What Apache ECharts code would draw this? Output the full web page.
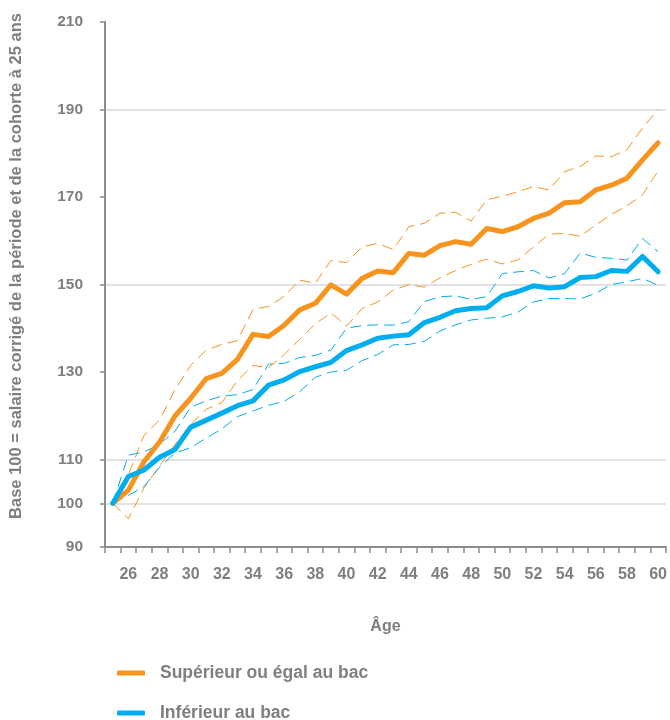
<!DOCTYPE html>
<html>
<head>
<meta charset="utf-8">
<script src="https://cdn.jsdelivr.net/npm/echarts@6/dist/echarts.min.js"></script>
<style>
html,body{margin:0;padding:0;background:#fff;}
#chart{width:670px;height:720px;}
</style>
</head>
<body>
<div id="chart"></div>
<script>
// ---- data ----
const ages = [];
for (let a = 25; a <= 60; a++) ages.push(String(a));

const yTicks = [90, 100, 110, 130, 150, 170, 190, 210];

const supMain = [100, 103, 109.5, 114, 120, 124, 128.5, 129.7, 132.9, 138.6, 138.1, 140.7, 144.2, 145.7, 149.9, 147.8, 151.4, 153.1, 152.7, 157.1, 156.7, 158.9, 159.8, 159.2, 162.8, 162.1, 163.2, 165.1, 166.3, 168.7, 168.9, 171.6, 172.7, 174.3, 178.5, 182.4];
const supHigh = [100, 106.5, 115.5, 119, 126, 131.5, 135, 136.3, 137.2, 144.3, 145, 147.3, 151, 150.3, 155.5, 155, 158.6, 159.4, 158, 163.2, 164, 166.3, 166.5, 164.5, 169.4, 170.2, 171.2, 172.4, 171.6, 175.8, 177, 179.4, 179.2, 180.8, 185.8, 190];
const supLow = [100, 96.5, 103.5, 108.5, 113.5, 118, 121.5, 123, 128, 131.5, 131, 134, 137.5, 141, 143.5, 140.5, 144.5, 146, 148.7, 150, 149.4, 151.5, 153.2, 154.6, 155.8, 154.7, 155.6, 158.6, 161.5, 161.7, 161, 163.6, 166, 168, 170.5, 176];

const infMain = [100, 106.1, 107.6, 110.5, 112.3, 117.4, 119, 120.6, 122.3, 123.4, 127, 128.2, 130.1, 131.2, 132.2, 134.9, 136.2, 137.7, 138.2, 138.5, 141.3, 142.5, 144, 144.5, 144.7, 147.4, 148.4, 149.7, 149.2, 149.5, 151.6, 151.8, 153.2, 153, 156.4, 152.9];
const infHigh = [100, 111, 111.7, 113.5, 116.5, 122, 123.4, 124.5, 124.8, 126, 131.8, 132, 133.3, 133.8, 135, 140, 140.6, 140.8, 140.7, 141.5, 146.1, 147.2, 147.4, 146.6, 147.2, 152.5, 152.9, 153.2, 151.5, 152.5, 157.2, 156.2, 156, 155.6, 160.5, 157.5];
const infLow = [100, 101.8, 103.8, 108.3, 111.5, 112.7, 114.9, 117, 119.8, 121.1, 122.4, 123.3, 125.5, 128.8, 130, 130.4, 132.6, 134, 136.2, 136.3, 137, 139.4, 140.8, 141.9, 142.3, 142.6, 143.7, 146, 146.8, 146.8, 146.7, 148, 150, 150.6, 151.4, 149.8];

const nameSup = 'Supérieur ou égal au bac';
const nameInf = 'Inférieur au bac';

// ---- style ----
const ORANGE = '#F7941D';
const BLUE = '#00AEEF';
const TXT = '#7f7f7f';
const FONT = 'Liberation Sans, Arial, sans-serif';
const GRID = '#d9d9d9';

const splitColors = [];
for (let v = 90; v <= 210; v += 10) {
  splitColors.push(v !== 90 && yTicks.indexOf(v) >= 0 ? GRID : 'rgba(0,0,0,0)');
}

function dashed(name, data, color) {
  return {
    name: name, type: 'line', data: data, symbol: 'none', silent: true,
    lineStyle: { color: color, width: 1, type: [11, 6] }, z: 2
  };
}
function solid(name, data, color, z) {
  return {
    name: name, type: 'line', data: data, symbol: 'none',
    itemStyle: { color: color },
    lineStyle: { color: color, width: 5, join: 'round', cap: 'round' }, z: z
  };
}
function legendFor(name, top) {
  return {
    data: [name],
    orient: 'horizontal',
    left: 117, top: top,
    padding: 0,
    icon: 'roundRect',
    itemWidth: 28, itemHeight: 5,
    selectedMode: false,
    textStyle: { color: TXT, fontSize: 17.5, fontWeight: 'bold', fontFamily: FONT, padding: [0, 0, 0, 10] }
  };
}

const chart = echarts.init(document.getElementById('chart'), null, { renderer: 'canvas' });
chart.setOption({
  animation: false,
  backgroundColor: '#ffffff',
  textStyle: { fontFamily: FONT },
  grid: { left: 105, right: 3, top: 22, bottom: 173, containLabel: false },
  xAxis: {
    type: 'category',
    data: ages,
    boundaryGap: true,
    name: 'Âge',
    nameLocation: 'middle',
    nameGap: 72,
    nameTextStyle: { color: TXT, fontSize: 16, fontWeight: 'bold', fontFamily: FONT },
    axisLine: { lineStyle: { color: '#8c8c8c', width: 2 } },
    axisTick: { show: true, interval: 0, length: 6, lineStyle: { color: '#8c8c8c', width: 1.5 } },
    axisLabel: {
      interval: function (index) { return index % 2 === 1; },
      color: TXT, fontSize: 16, fontWeight: 'bold', fontFamily: FONT, margin: 20
    },
    splitLine: { show: false }
  },
  yAxis: {
    type: 'value',
    min: 90, max: 210, interval: 10,
    name: 'Base 100 = salaire corrigé de la période et de la cohorte à 25 ans',
    nameLocation: 'middle',
    nameGap: 80,
    nameRotate: 90,
    nameTextStyle: { color: TXT, fontSize: 16.5, fontWeight: 'bold', fontFamily: FONT, padding: [0, 0, 0, 37] },
    axisLine: { show: true, lineStyle: { color: '#8c8c8c', width: 2 } },
    axisTick: { show: true, length: 5, customValues: yTicks, lineStyle: { color: '#8c8c8c', width: 1.5 } },
    axisLabel: { customValues: yTicks, color: TXT, fontSize: 15.5, fontWeight: 'bold', fontFamily: FONT, margin: 22 },
    splitLine: { show: true, lineStyle: { color: splitColors, width: 1.5 } }
  },
  legend: [legendFor(nameSup, 664), legendFor(nameInf, 704)],
  series: [
    dashed('supHigh', supHigh, ORANGE),
    dashed('supLow', supLow, ORANGE),
    dashed('infHigh', infHigh, BLUE),
    dashed('infLow', infLow, BLUE),
    solid(nameSup, supMain, ORANGE, 3),
    solid(nameInf, infMain, BLUE, 4)
  ]
});
</script>
</body>
</html>
